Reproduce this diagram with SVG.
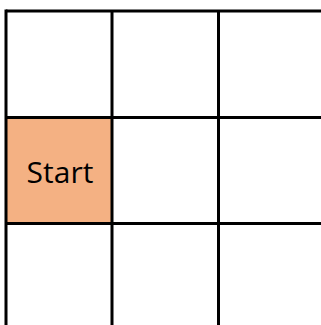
<svg xmlns="http://www.w3.org/2000/svg" width="321" height="325" viewBox="0 0 321 325">
<style>
.ln{stroke:#000;stroke-width:3;fill:none}
.lbl{font-family:"Open Sans","Liberation Sans",Arial,sans-serif;font-size:30px;fill:#000}
</style>
<rect width="321" height="325" fill="#fff"/>
<g id="start">
<rect x="6" y="117.5" width="106" height="106" fill="#F4B183"/>
<text class="lbl" x="60" y="182.5" text-anchor="middle">Start</text>
</g>
<g id="grid">
<line class="ln" x1="6" y1="11" x2="321" y2="11"/>
<line class="ln" x1="6" y1="117.5" x2="321" y2="117.5"/>
<line class="ln" x1="6" y1="223.5" x2="321" y2="223.5"/>
<line class="ln" x1="6" y1="9.5" x2="6" y2="325"/>
<line class="ln" x1="112" y1="11" x2="112" y2="325"/>
<line class="ln" x1="218.5" y1="11" x2="218.5" y2="325"/>
</g>
</svg>
